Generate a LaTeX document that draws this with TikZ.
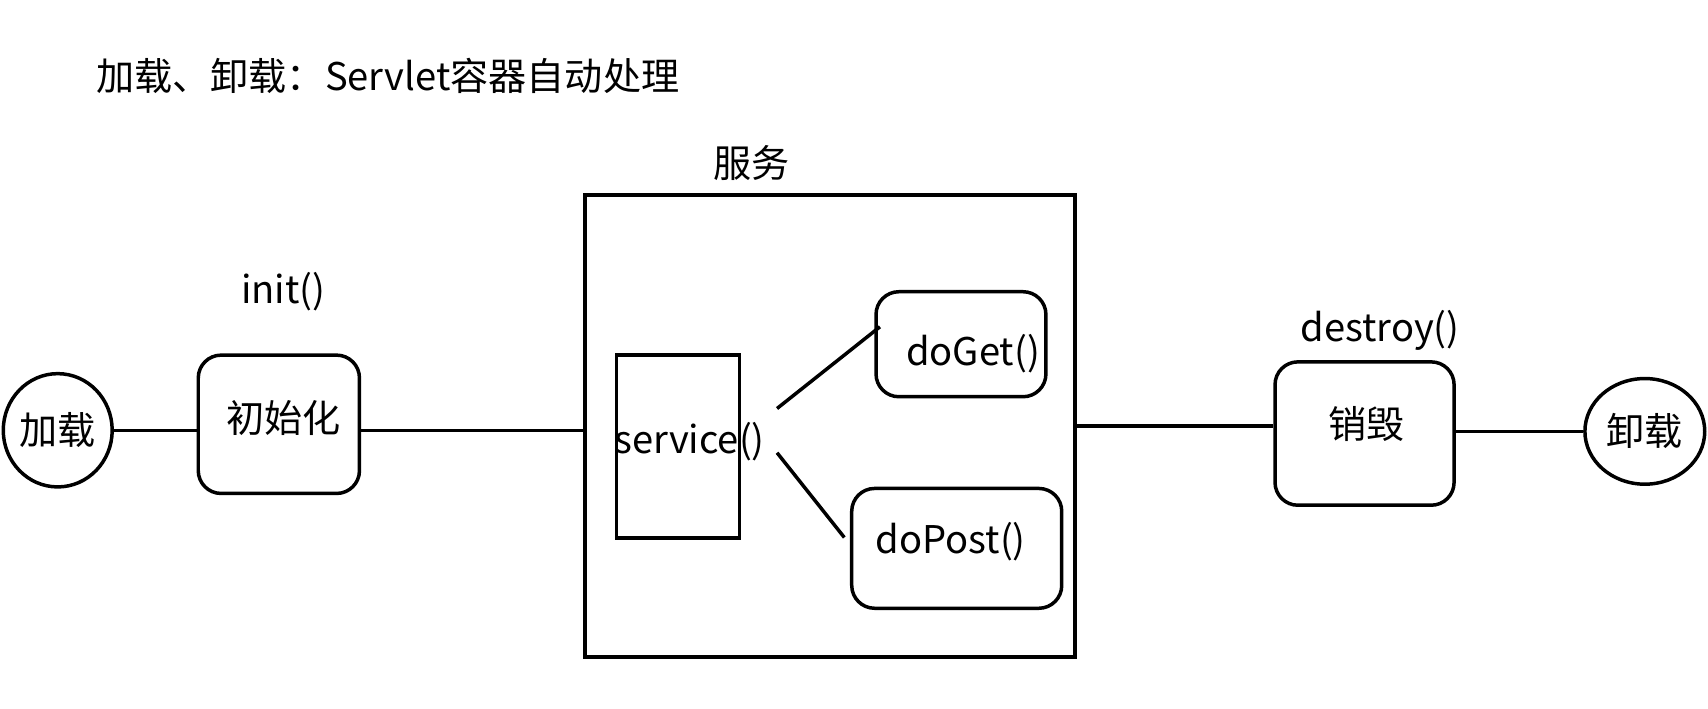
\documentclass[tikz,border=0pt]{standalone}
\usepackage{fontspec}
\setmainfont{Noto Sans CJK SC}
\usetikzlibrary{shapes.geometric}
\begin{document}
\begin{tikzpicture}[x=0.5pt,y=-0.5pt,
  every node/.style={font=\fontsize{17.5}{21}\selectfont},
  endpt/.style={ellipse,draw,line width=1.6pt,inner sep=0pt},
  stagebox/.style={rectangle,draw,line width=1.6pt,rounded corners=10.5pt,inner sep=0pt},
  plainbox/.style={rectangle,draw,line width=1.6pt,inner sep=0pt},
  link/.style={line width=1.6pt}]
\useasboundingbox (0,0) rectangle (1568,650);
\node[anchor=west,inner sep=0pt] (title) at (88,70) {加载、卸载：Servlet容器自动处理};

\node[endpt,minimum width=50pt,minimum height=52pt] (load) at (53,395) {加载};
\node[stagebox,minimum width=74pt,minimum height=63.5pt,
  label={[xshift=2pt,yshift=3pt]center:初始化}] (init) at (256,389.5) {};
\node (initlbl) at (260,268) {init()};

\node[plainbox,minimum width=225pt,minimum height=212pt] (serve) at (762,391) {};
\node (servelbl) at (690,150) {服务};
\node[plainbox,minimum width=56.3pt,minimum height=84pt] (svcbox) at (622.4,410) {};
\node[inner sep=0pt] (svc) at (633,405) {service()};
\node[stagebox,minimum width=78pt,minimum height=48.2pt,
  label={[xshift=5.5pt,yshift=-4.5pt]center:doGet()}] (doget) at (882.2,316) {};
\node[stagebox,minimum width=96.4pt,minimum height=55pt,
  label={[xshift=-2.75pt,yshift=3pt]center:doPost()}] (dopost) at (878.3,503.4) {};

\node[stagebox,minimum width=82.2pt,minimum height=65.8pt,
  label={[xshift=1pt,yshift=4.5pt]center:销毁}] (destroy) at (1252.7,398) {};
\node (destroylbl) at (1267,303) {destroy()};
\node[endpt,minimum width=55pt,minimum height=48.5pt] (unload) at (1510,396) {卸载};

\draw[link] (load) -- (load -| init.west);
\draw[link] (load -| init.east) -- (load -| serve.west);
\draw[link] ([xshift=5.4pt,yshift=15pt]svc.east) -- ([xshift=2.6pt,yshift=8pt]doget.west);
\draw[link] ([xshift=5.4pt,yshift=-5.3pt]svc.east) -- ([xshift=-2.6pt,yshift=5pt]dopost.west);
\draw[link] (serve.east) -- (serve.east -| destroy.west);
\draw[link] (destroy.east |- unload) -- (unload);
\end{tikzpicture}
\end{document}
